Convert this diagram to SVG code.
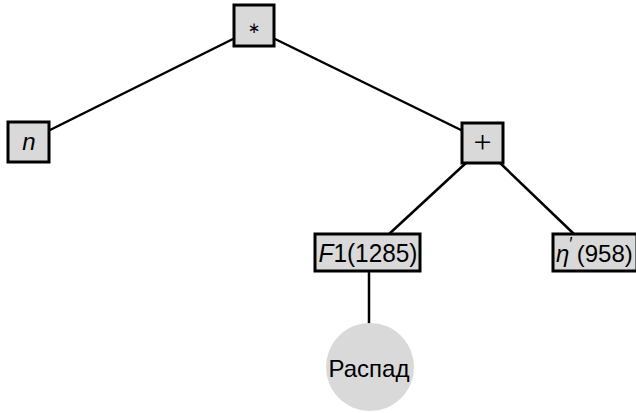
<svg xmlns="http://www.w3.org/2000/svg" width="636" height="413" viewBox="0 0 636 413">
<style>
.box{fill:#d9d9d9;stroke:#000;stroke-width:3}
.edge{stroke:#000;stroke-width:2.5;fill:none}
.t{font-family:"Liberation Sans","DejaVu Sans",sans-serif;font-size:24px;fill:#000;text-anchor:middle;dominant-baseline:central}
.it{font-style:italic}
</style>
<rect width="636" height="413" fill="#fff"/>
<g id="connectors">
<line class="edge" x1="235" y1="38" x2="48" y2="131"/>
<line class="edge" x1="273" y1="38" x2="463" y2="131"/>
<line class="edge" x1="467" y1="162" x2="388" y2="235"/>
<line class="edge" x1="499" y1="162" x2="575" y2="235"/>
<line class="edge" x1="369" y1="271" x2="369" y2="324"/>
</g>
<g id="node-mul">
<rect class="box" x="234" y="5" width="40" height="41"/>
<text class="t" x="254" y="28" style="font-family:'DejaVu Sans',sans-serif;font-size:15px">∗</text>
</g>
<g id="node-n">
<rect class="box" x="8" y="122" width="41" height="40"/>
<text class="t it" x="29" y="141">n</text>
</g>
<g id="node-plus">
<rect class="box" x="462" y="123" width="41" height="40"/>
<text class="t" x="482.5" y="142" style="font-family:'Liberation Serif',serif;font-size:32px">+</text>
</g>
<g id="node-F1">
<rect class="box" x="315" y="234" width="105" height="37"/>
<text class="t" x="368" y="253" textLength="99" lengthAdjust="spacingAndGlyphs" style="font-size:25px"><tspan class="it">F</tspan>1(1285)</text>
</g>
<g id="node-eta">
<rect class="box" x="553" y="234" width="84" height="37"/>
<text class="t" x="556" y="253" style="text-anchor:start"><tspan class="it">η</tspan><tspan dy="-9" font-size="18">′</tspan><tspan dy="9" dx="4">(958)</tspan></text>
</g>
<g id="node-decay">
<circle cx="370" cy="367" r="44" fill="#d9d9d9"/>
<text class="t" x="369" y="368">Распад</text>
</g>
</svg>
